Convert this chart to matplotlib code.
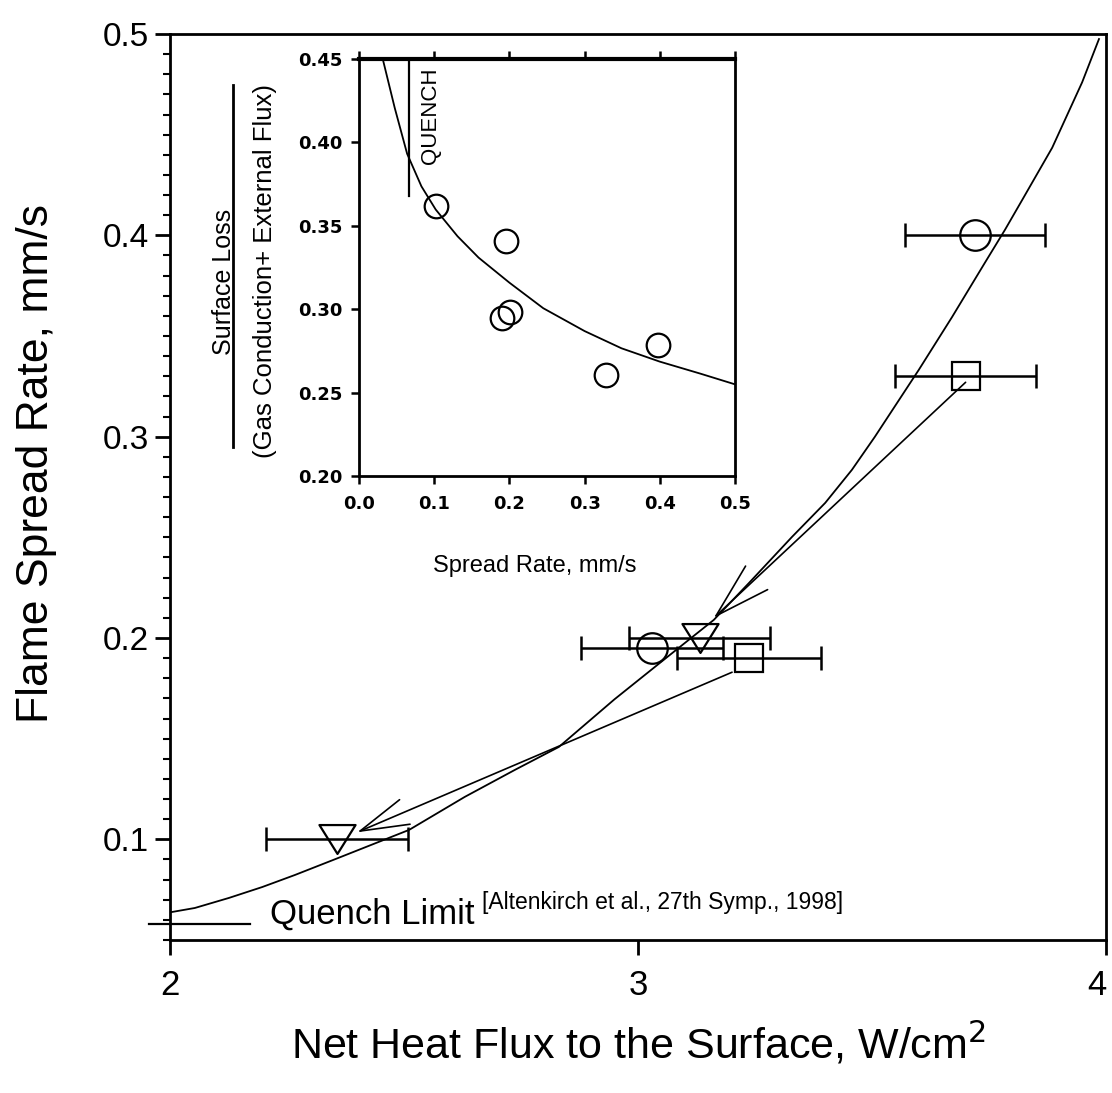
import matplotlib
matplotlib.use("Agg")
import matplotlib.pyplot as plt
from matplotlib.ticker import MultipleLocator
from matplotlib.path import Path

plt.rcParams["font.family"] = ["Liberation Sans", "DejaVu Sans"]

# main plot data
circle_x = [3.03, 3.72]
circle_y = [0.195, 0.400]
circle_xerr = [0.151, 0.150]

square_x = [3.238, 3.700]
square_y = [0.190, 0.330]
square_xerr = [0.154, 0.150]

tri_x = [2.357, 3.132]
tri_y = [0.100, 0.200]
tri_xerr = [0.152, 0.151]

fit_x = [2.004, 2.053, 2.126, 2.197, 2.267, 2.359, 2.511, 2.630, 2.737, 2.831,
         2.950, 3.066, 3.162, 3.237, 3.329, 3.400, 3.457, 3.506, 3.600, 3.671,
         3.741, 3.784, 3.821, 3.885, 3.949, 3.985]
fit_y = [0.0639, 0.0659, 0.0709, 0.0763, 0.0823, 0.0907, 0.1047, 0.1211, 0.1345, 0.1459,
         0.1696, 0.1912, 0.2090, 0.2273, 0.2502, 0.2671, 0.2835, 0.2999, 0.3332, 0.3594,
         0.3863, 0.4027, 0.4176, 0.4435, 0.4760, 0.4975]

# arrows: (start, end) in data units
arrow_start = [(3.700, 0.327), (3.201, 0.183)]
arrow_end = [(3.162, 0.210), (2.400, 0.1035)]

quench_x = [1.955, 2.171]
quench_y = 0.058

# inset data
ins_x = [0.102, 0.195, 0.190, 0.201, 0.328, 0.398]
ins_y = [0.3617, 0.341, 0.2944, 0.2983, 0.2607, 0.2784]

ins_fit_x = [0.032, 0.0475, 0.064, 0.083, 0.102, 0.131, 0.159, 0.200, 0.245,
             0.300, 0.349, 0.400, 0.454, 0.500]
ins_fit_y = [0.449, 0.4205, 0.393, 0.3735, 0.3596, 0.3436, 0.3308, 0.3158, 0.3005,
             0.2868, 0.2765, 0.2685, 0.2613, 0.2549]

ins_quench_x = 0.0665
ins_quench_y = [0.368, 0.45]

W, H = 1112, 1093
fig = plt.figure(figsize=(W / 100, H / 100), dpi=100)

# ---------- main axes ----------
ax = fig.add_axes([170 / W, 1 - 940 / H, (1106 - 170) / W, (940 - 34) / H])
ax.set_xlim(2, 4)
ax.set_ylim(0.05, 0.5)

ax.plot(fit_x, fit_y, color="black", lw=1.3)

eb = dict(fmt="none", ecolor="black", elinewidth=1.8, capsize=8.5, capthick=1.8)
ax.errorbar(circle_x, circle_y, xerr=circle_xerr, **eb)
ax.errorbar(square_x, square_y, xerr=square_xerr, **eb)
ax.errorbar(tri_x, tri_y, xerr=tri_xerr, **eb)

mk = dict(ls="none", mfc="none", mec="black", mew=1.6)
ax.plot(circle_x, circle_y, marker="o", ms=22, **mk)
ax.plot(square_x, square_y, marker="s", ms=20, **mk)
# flattened downward triangle
tri_marker = Path([(-1, 0.8), (1, 0.8), (0, -0.8), (-1, 0.8)],
                  [Path.MOVETO, Path.LINETO, Path.LINETO, Path.CLOSEPOLY])
ax.plot(tri_x, tri_y, marker=tri_marker, ms=26, **mk)

heads = ["->,head_length=2.0,head_width=0.58", "->,head_length=1.75,head_width=0.48"]
for s, e, h in zip(arrow_start, arrow_end, heads):
    ax.annotate("", xy=e, xytext=s,
                arrowprops=dict(arrowstyle=h, color="black", lw=1.2,
                                shrinkA=0, shrinkB=0, mutation_scale=20))

ax.plot(quench_x, [quench_y, quench_y], color="black", lw=1.6, clip_on=False)
ax.text(2.214, quench_y, "Quench Limit", fontsize=25, va="baseline", ha="left")
ax.text(2.667, 0.0684, "[Altenkirch et al., 27th Symp., 1998]", fontsize=16.5,
        va="center", ha="left")

ax.set_xticks([2, 3, 4])
ax.set_xticklabels(["2", "3", "4"])
ax.set_yticks([0.1, 0.2, 0.3, 0.4, 0.5])
ax.set_yticklabels(["0.1", "0.2", "0.3", "0.4", "0.5"])
ax.yaxis.set_minor_locator(MultipleLocator(0.01))
ax.tick_params(axis="both", which="major", direction="out", length=11, width=2)
ax.tick_params(axis="y", which="minor", direction="out", length=5, width=1.5)
ax.tick_params(axis="y", labelsize=24, pad=4)
ax.tick_params(axis="x", labelsize=25, pad=10)
# last label sits at the figure edge
ax.get_xticklabels()[-1].set_ha("right")
for sp in ax.spines.values():
    sp.set_linewidth(2)

ax.set_ylabel("Flame Spread Rate, mm/s", fontsize=32)
ax.yaxis.set_label_coords(-0.121, 0.526)
ax.set_xlabel("Net Heat Flux to the Surface, W/cm$^2$", fontsize=31)
ax.xaxis.set_label_coords(0.5, -0.088)

# ---------- inset ----------
ins = fig.add_axes([359 / W, 1 - 476 / H, 376 / W, (476 - 58.6) / H])
ins.set_xlim(0, 0.5)
ins.set_ylim(0.2, 0.45)

ins.plot(ins_fit_x, ins_fit_y, color="black", lw=1.3)
ins.plot(ins_x, ins_y, marker="o", ms=17, **mk)
ins.plot([ins_quench_x, ins_quench_x], ins_quench_y, color="black", lw=1.6)
ins.text(0.0957, 0.4156, "QUENCH", rotation=90, fontsize=16, ha="center", va="center")

ins.set_xticks([0.0, 0.1, 0.2, 0.3, 0.4, 0.5])
ins.set_xticklabels(["0.0", "0.1", "0.2", "0.3", "0.4", "0.5"])
ins.set_yticks([0.20, 0.25, 0.30, 0.35, 0.40, 0.45])
ins.set_yticklabels(["0.20", "0.25", "0.30", "0.35", "0.40", "0.45"])
ins.tick_params(direction="out", length=6, width=1.8, top=True)
ins.tick_params(axis="x", pad=8)
ins.tick_params(axis="y", pad=6)
for lab in ins.get_xticklabels() + ins.get_yticklabels():
    lab.set_family(["DejaVu Sans"])
    lab.set_fontweight("bold")
    lab.set_fontsize(13)
for sp in ins.spines.values():
    sp.set_linewidth(2)
ins.spines["top"].set_linewidth(3)

ins.set_xlabel("Spread Rate, mm/s", fontsize=17)
ins.xaxis.set_label_coords(0.468, -0.19)

# stacked label: Surface Loss / (Gas Conduction+ External Flux)
ins.text(-0.359, 0.465, "Surface Loss", rotation=90, fontsize=18,
         ha="center", va="center", transform=ins.transAxes)
ins.plot([-0.335, -0.335], [0.069, 0.937], color="black", lw=2,
         transform=ins.transAxes, clip_on=False)
ins.text(-0.25, 0.49, "(Gas Conduction+ External Flux)", rotation=90, fontsize=18.5,
         ha="center", va="center", transform=ins.transAxes)

fig.savefig("out.png", dpi=100)
